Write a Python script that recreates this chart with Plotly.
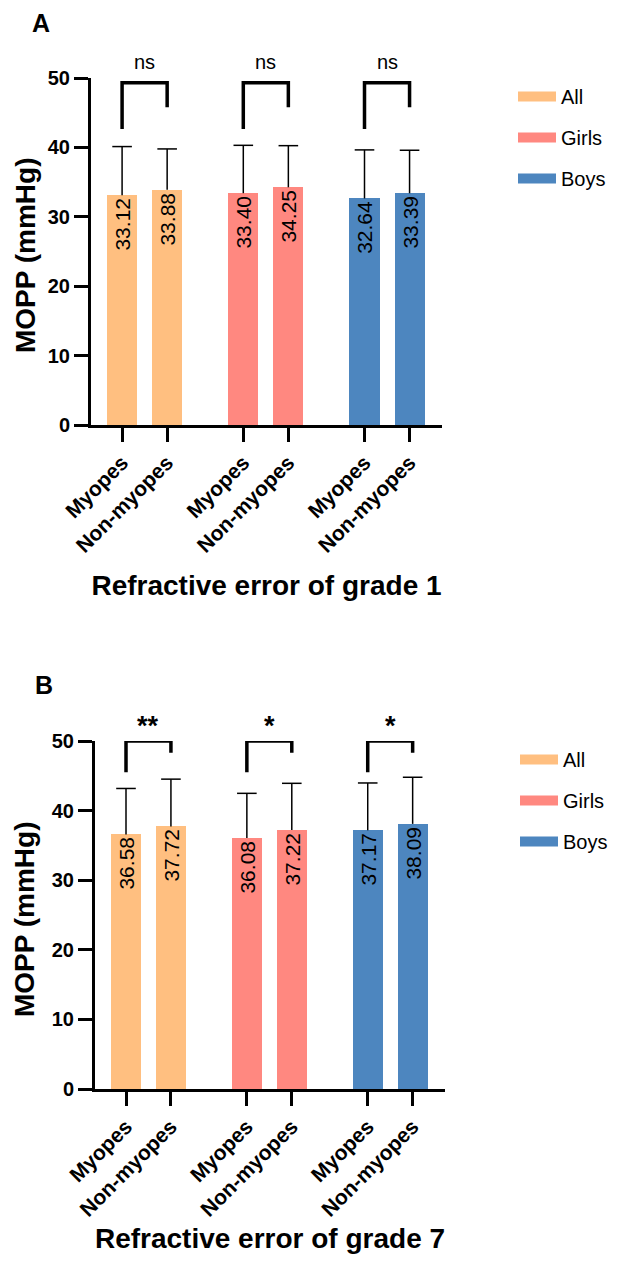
import plotly.graph_objects as go

# ---------------- data ----------------
groups = ["All", "Girls", "Boys"]
subgroups = ["Myopes", "Non-myopes"]

grade1_means = [33.12, 33.88, 33.40, 34.25, 32.64, 33.39]
grade1_sd = [7.0, 5.9, 6.9, 6.0, 7.0, 6.2]
grade1_sig = ["ns", "ns", "ns"]

grade7_means = [36.58, 37.72, 36.08, 37.22, 37.17, 38.09]
grade7_sd = [6.6, 6.8, 6.4, 6.7, 6.8, 6.7]
grade7_sig = ["**", "*", "*"]

y_ticks = [0, 10, 20, 30, 40, 50]
y_title = "MOPP (mmHg)"

# ---------------- style ----------------
colors = {"All": "#FFBF80", "Girls": "#FF8880", "Boys": "#4D86BF"}
FONT = "Arial, Liberation Sans, sans-serif"
OFF = 8                      # default page body margin
W, H = 626 - 2 * OFF, 1262 - 2 * OFF
GAP = 2.69
BW = 0.667


def px(X):
    return (X - OFF) / W


def py(Y):
    return 1 - (Y - OFF) / H


fig = go.Figure()

panels = [
    dict(xa="x", ya="y", means=grade1_means, sd=grade1_sd, sig=grade1_sig,
         legend="legend", title="Refractive error of grade 1",
         br=(42.65, 49.3, 45.8), sigsize=(20, "normal"), tag="A", ytc=255),
    dict(xa="x2", ya="y2", means=grade7_means, sd=grade7_sd, sig=grade7_sig,
         legend="legend2", title="Refractive error of grade 7",
         br=(45.5, 50.0, 48.3), sigsize=(27, "bold"), tag="B", ytc=919),
]

annotations = []
tickvals = []
for gi in range(len(groups)):
    for si in range(len(subgroups)):
        tickvals.append(gi * GAP + si)
ticktext = subgroups * len(groups)

for p in panels:
    for gi, grp in enumerate(groups):
        xs = [gi * GAP + si for si in range(len(subgroups))]
        ms = p["means"][2 * gi:2 * gi + 2]
        sds = p["sd"][2 * gi:2 * gi + 2]
        fig.add_trace(go.Bar(
            x=xs, y=ms, width=BW, marker=dict(color=colors[grp], line=dict(width=0)),
            texttemplate="%{y:.2f}", textposition="inside", insidetextanchor="end",
            textangle=-90, insidetextfont=dict(size=21, color="black", family=FONT),
            xaxis=p["xa"], yaxis=p["ya"], showlegend=False, hoverinfo="skip"))
        # upper error bars (stems)
        sx, sy = [], []
        for x, m, s in zip(xs, ms, sds):
            sx += [x, x, None]
            sy += [m, m + s, None]
        fig.add_trace(go.Scatter(x=sx, y=sy, mode="lines", line=dict(color="black", width=1.5),
                                 xaxis=p["xa"], yaxis=p["ya"], showlegend=False, hoverinfo="skip"))
        # caps
        fig.add_trace(go.Scatter(x=xs, y=[m + s for m, s in zip(ms, sds)], mode="markers",
                                 marker=dict(symbol="line-ew", size=14,
                                             line=dict(color="black", width=1.5)),
                                 xaxis=p["xa"], yaxis=p["ya"], showlegend=False, hoverinfo="skip"))
        # significance bracket
        lb, top, rb = p["br"]
        fig.add_trace(go.Scatter(x=[xs[0], xs[0], xs[1], xs[1]], y=[lb, top, top, rb],
                                 mode="lines", line=dict(color="black", width=3.5),
                                 cliponaxis=False, xaxis=p["xa"], yaxis=p["ya"],
                                 showlegend=False, hoverinfo="skip"))
        sz, wt = p["sigsize"]
        annotations.append(dict(
            x=(xs[0] + xs[1]) / 2, y=top, xref=p["xa"], yref=p["ya"], text=p["sig"][gi],
            showarrow=False, yanchor="bottom", yshift=8 if wt == "normal" else -2,
            font=dict(size=sz, family=FONT, color="black", weight=wt)))
        # legend entry
        fig.add_trace(go.Scatter(x=[None], y=[None], mode="lines",
                                 line=dict(color=colors[grp], width=10), name=grp,
                                 legend=p["legend"], legendgroup=p["tag"] + grp,
                                 xaxis=p["xa"], yaxis=p["ya"]))
    # y-axis title
    annotations.append(dict(x=px(25), y=py(p["ytc"]), xref="paper", yref="paper", text=y_title,
                            showarrow=False, textangle=-90, xanchor="center", yanchor="middle",
                            font=dict(size=28, family=FONT, color="black", weight="bold")))

# panel letters
annotations.append(dict(x=px(30), y=py(23), xref="paper", yref="paper", text="A",
                        showarrow=False, xanchor="left", yanchor="middle",
                        font=dict(size=25, family=FONT, color="black", weight="bold")))
annotations.append(dict(x=px(33), y=py(685), xref="paper", yref="paper", text="B",
                        showarrow=False, xanchor="left", yanchor="middle",
                        font=dict(size=25, family=FONT, color="black", weight="bold")))


def xax(domain, title):
    return dict(domain=domain, range=[-0.69, 7.1], tickvals=tickvals, ticktext=ticktext,
                tickangle=-45, ticks="outside", ticklen=14, tickwidth=3, tickcolor="black",
                showline=True, linewidth=3, linecolor="black", showgrid=False, zeroline=False,
                automargin=False,
                tickfont=dict(size=21, family=FONT, color="black", weight="bold"),
                title=dict(text=title, standoff=20,
                           font=dict(size=28, family=FONT, color="black", weight="bold")),
                fixedrange=True)


def yax(domain, anchor):
    return dict(domain=domain, range=[0, 50], tickvals=y_ticks, anchor=anchor,
                ticks="outside", ticklen=14, tickwidth=3, tickcolor="black",
                showline=True, linewidth=3, linecolor="black", showgrid=False, zeroline=False,
                automargin=False,
                tickfont=dict(size=20, family=FONT, color="black", weight="bold"),
                fixedrange=True)


legend_common = dict(xanchor="left", yanchor="top", font=dict(size=20, family=FONT, color="black"),
                     itemwidth=38, tracegroupgap=12, bgcolor="rgba(0,0,0,0)", itemclick=False)

fig.update_layout(
    width=W, height=H, margin=dict(l=0, r=0, t=0, b=0, autoexpand=False),
    paper_bgcolor="white", plot_bgcolor="white", bargap=0,
    font=dict(family=FONT, color="black"),
    xaxis=xax([px(91), px(442)], "Refractive error of grade 1") | dict(anchor="y"),
    yaxis=yax([py(425), py(78)], "x"),
    xaxis2=xax([px(95), px(445)], "Refractive error of grade 7") | dict(anchor="y2"),
    yaxis2=yax([py(1089), py(741)], "x2"),
    legend=dict(x=px(513), y=py(77), **legend_common),
    legend2=dict(x=px(515), y=py(740), **legend_common),
    annotations=annotations,
)

fig.write_html("out.html")
